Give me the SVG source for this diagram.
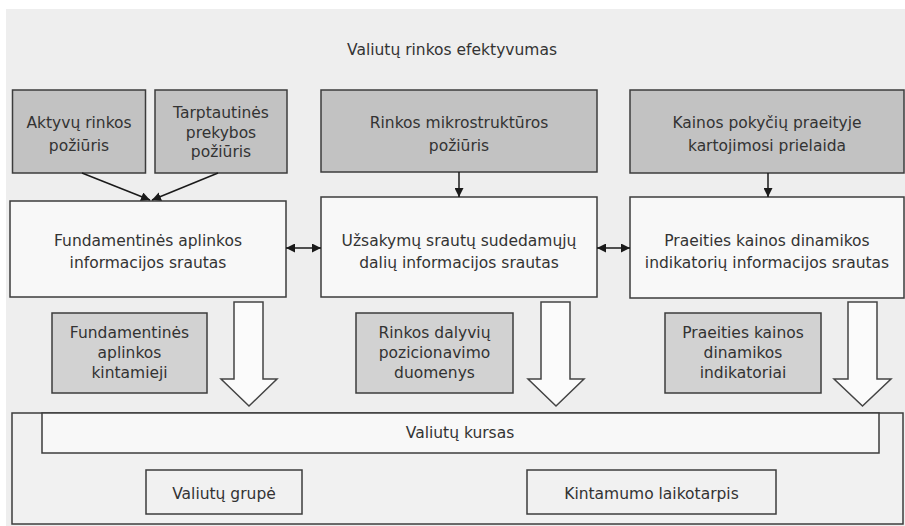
<svg xmlns="http://www.w3.org/2000/svg" width="905" height="526" viewBox="0 0 905 526">
<defs>
<marker id="ah" viewBox="0 0 10 10" refX="10" refY="5" markerWidth="9" markerHeight="9" markerUnits="userSpaceOnUse" orient="auto-start-reverse">
<path d="M0,0 L10,5 L0,10 z" fill="#1a1a1a"/>
</marker>
<style>
text{font-family:"DejaVu Sans","Liberation Sans",sans-serif;font-size:15.5px;fill:#333;text-anchor:middle}
.g1{fill:#c2c2c2;stroke:#3c3c3c;stroke-width:1.5}
.g2{fill:#d2d2d2;stroke:#3c3c3c;stroke-width:1.5}
.w{fill:#f8f8f8;stroke:#3c3c3c;stroke-width:1.5}
.o{fill:#f1f1f1;stroke:#3c3c3c;stroke-width:1.5}
.blk{fill:#fbfbfb;stroke:#444;stroke-width:1.5;stroke-linejoin:miter}
.c{stroke:#1a1a1a;stroke-width:1.5;fill:none}
</style>
</defs>
<rect x="0" y="0" width="905" height="526" fill="#ffffff"/>
<rect x="6" y="9" width="899" height="517" fill="#eeeeee"/>
<text x="452" y="55">Valiutų rinkos efektyvumas</text>

<g id="aktyvu">
<rect class="g1" x="12.5" y="90" width="133" height="83"/>
<text x="79" y="128">Aktyvų rinkos</text>
<text x="79" y="151">požiūris</text>
</g>
<g id="tarptautines">
<rect class="g1" x="155" y="90" width="132" height="83"/>
<text x="221" y="118">Tarptautinės</text>
<text x="221" y="137.5">prekybos</text>
<text x="221" y="157">požiūris</text>
</g>
<g id="mikrostrukturos">
<rect class="g1" x="321" y="90" width="276" height="82"/>
<text x="459" y="128">Rinkos mikrostruktūros</text>
<text x="459" y="151">požiūris</text>
</g>
<g id="kainos">
<rect class="g1" x="630" y="90" width="274" height="83"/>
<text x="767" y="128">Kainos pokyčių praeityje</text>
<text x="767" y="151">kartojimosi prielaida</text>
</g>

<g id="fund-srautas">
<rect class="w" x="10" y="201" width="276" height="96"/>
<text x="148" y="246">Fundamentinės aplinkos</text>
<text x="148" y="268">informacijos srautas</text>
</g>
<g id="uzsakymu-srautas">
<rect class="w" x="321" y="197" width="276" height="100"/>
<text x="459" y="246">Užsakymų srautų sudedamųjų</text>
<text x="459" y="268">dalių informacijos srautas</text>
</g>
<g id="praeities-srautas">
<rect class="w" x="630" y="197" width="274" height="101"/>
<text x="767" y="246">Praeities kainos dinamikos</text>
<text x="767" y="268">indikatorių informacijos srautas</text>
</g>

<g id="fund-kintamieji">
<rect class="g2" x="52" y="313" width="155" height="80"/>
<text x="129.5" y="338">Fundamentinės</text>
<text x="129.5" y="358">aplinkos</text>
<text x="129.5" y="378">kintamieji</text>
</g>
<g id="dalyviu-duomenys">
<rect class="g2" x="356" y="313" width="157" height="80"/>
<text x="434.5" y="338">Rinkos dalyvių</text>
<text x="434.5" y="358">pozicionavimo</text>
<text x="434.5" y="378">duomenys</text>
</g>
<g id="praeities-indikatoriai">
<rect class="g2" x="665" y="313" width="156" height="80"/>
<text x="743" y="338">Praeities kainos</text>
<text x="743" y="358">dinamikos</text>
<text x="743" y="378">indikatoriai</text>
</g>

<g id="bottom">
<rect class="o" x="12" y="413" width="891" height="111"/>
<g id="kursas">
<rect class="w" x="42" y="413" width="837" height="40"/>
<text x="460" y="438">Valiutų kursas</text>
</g>
<g id="grupe">
<rect class="o" x="146" y="470" width="156" height="44"/>
<text x="224" y="499">Valiutų grupė</text>
</g>
<g id="laikotarpis">
<rect class="o" x="527" y="470" width="249" height="44"/>
<text x="651.5" y="499">Kintamumo laikotarpis</text>
</g>
</g>

<g id="connectors">
<line class="c" x1="82" y1="173" x2="150" y2="200" marker-end="url(#ah)"/>
<line class="c" x1="218" y1="173" x2="152" y2="200" marker-end="url(#ah)"/>
<line class="c" x1="459" y1="172" x2="459" y2="197" marker-end="url(#ah)"/>
<line class="c" x1="768" y1="173" x2="768" y2="197" marker-end="url(#ah)"/>
<line class="c" x1="286" y1="248" x2="321" y2="248" marker-start="url(#ah)" marker-end="url(#ah)"/>
<line class="c" x1="597" y1="248" x2="630" y2="248" marker-start="url(#ah)" marker-end="url(#ah)"/>
<path class="blk" d="M234,302 H263 V379 H277 L249,406 L221,379 H234 Z"/>
<path class="blk" d="M541,302 H570 V379 H584 L556,406 L528,379 H541 Z"/>
<path class="blk" d="M848,302 H877 V379 H891 L862.5,406 L834,379 H848 Z"/>
</g>
</svg>
